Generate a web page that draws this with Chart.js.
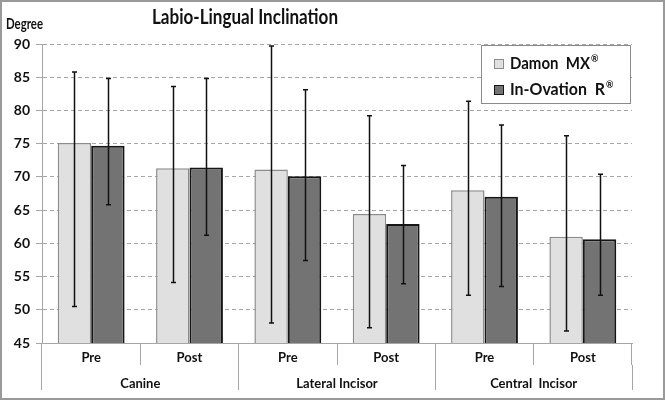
<!DOCTYPE html>
<html>
<head>
<meta charset="utf-8">
<script src="https://cdn.jsdelivr.net/npm/chart.js@4"></script>
<style>
body { margin: 0; background: #fff; }
</style>
</head>
<body>
<canvas id="chart" width="665" height="400"></canvas>
<script>
// data
const subLabels = ["Pre", "Post", "Pre", "Post", "Pre", "Post"];
const groupLabels = ["Canine", "Lateral Incisor", "Central  Incisor"];
const seriesNames = ["Damon  MX®", "In-Ovation  R®"];

const damonMean = [75.1, 71.3, 71.1, 64.4, 68.0, 61.0];
const damonLow  = [50.5, 54.1, 48.0, 47.3, 52.2, 46.8];
const damonHigh = [85.8, 83.6, 89.7, 79.2, 81.4, 76.2];

const inovMean = [74.7, 71.4, 70.1, 62.9, 67.0, 60.6];
const inovLow  = [65.8, 61.2, 57.4, 53.9, 53.5, 52.2];
const inovHigh = [84.8, 84.8, 83.1, 71.7, 77.8, 70.4];

const FONT = "Lato, 'Liberation Sans', sans-serif";
const GRID = "#a6a6a6";
const TXT = "#111";

// squeeze canvas text to a given width (the source font is a narrow one)
function fitText(ctx, text, x, y, width) {
    const w = ctx.measureText(text).width;
    const sx = width / w;
    ctx.save();
    ctx.translate(x, y);
    ctx.scale(sx, 1);
    ctx.fillText(text, 0, 0);
    ctx.restore();
    return w * sx;
}

const extras = {
    id: "extras",
    afterDatasetsDraw(chart) {
        const ctx = chart.ctx, y = chart.scales.y;
        const errs = [[damonLow, damonHigh], [inovLow, inovHigh]];
        ctx.save();
        ctx.strokeStyle = "#111";
        ctx.lineWidth = 1.5;
        chart.data.datasets.forEach((ds, i) => {
            chart.getDatasetMeta(i).data.forEach((bar, j) => {
                const x = Math.round(bar.x) + 0.5;
                const top = y.getPixelForValue(errs[i][1][j]);
                const bot = y.getPixelForValue(errs[i][0][j]);
                ctx.beginPath();
                ctx.moveTo(x, top); ctx.lineTo(x, bot);
                ctx.moveTo(x - 2.5, top); ctx.lineTo(x + 2.5, top);
                ctx.moveTo(x - 2.5, bot); ctx.lineTo(x + 2.5, bot);
                ctx.stroke();
            });
        });
        ctx.restore();
    },
    afterDraw(chart) {
        const ctx = chart.ctx;
        ctx.save();
        ctx.fillStyle = TXT;
        ctx.textBaseline = "middle";
        ctx.textAlign = "left";

        // title
        ctx.font = "bold 21px " + FONT;
        fitText(ctx, "Labio-Lingual Inclination", 152, 17, 186);

        // axis name
        ctx.font = "bold 15px " + FONT;
        fitText(ctx, "Degree", 6, 24, 37);

        // legend
        ctx.fillStyle = "#fff";
        ctx.fillRect(481, 45, 149, 58);
        ctx.strokeStyle = "#8a8a8a";
        ctx.lineWidth = 1;
        ctx.strokeRect(481.5, 45.5, 149, 58);
        const legendW = [80, 95];
        chart.data.datasets.forEach((ds, i) => {
            const cy = 64 + i * 26;
            ctx.fillStyle = ds.backgroundColor;
            ctx.fillRect(494, cy - 5, 10, 10);
            ctx.strokeStyle = ds.borderColor;
            ctx.strokeRect(494.5, cy - 4.5, 9, 9);
            const parts = ds.label.split("®");
            ctx.fillStyle = TXT;
            ctx.font = "bold 17px " + FONT;
            const w = fitText(ctx, parts[0], 510, cy, legendW[i]);
            ctx.font = "bold 9px " + FONT;
            ctx.fillText("®", 510 + w + 1, cy - 5);
        });

        // outer frame
        ctx.strokeStyle = "#9a9a9a";
        ctx.lineWidth = 2;
        ctx.strokeRect(1, 1, 663, 398);
        ctx.restore();
    }
};

new Chart(document.getElementById("chart"), {
    type: "bar",
    data: {
        labels: subLabels,
        datasets: [
            {
                label: seriesNames[0],
                data: damonMean,
                backgroundColor: "#e0e0e0",
                borderColor: "#8c8c8c",
                borderWidth: 1.5
            },
            {
                label: seriesNames[1],
                data: inovMean,
                backgroundColor: "#737373",
                borderColor: "#151515",
                borderWidth: 2
            }
        ]
    },
    options: {
        responsive: false,
        animation: false,
        categoryPercentage: 0.68,
        barPercentage: 1.0,
        layout: { padding: { top: 44, right: 33, bottom: 8, left: 0 } },
        plugins: {
            legend: { display: false },
            tooltip: { enabled: false }
        },
        scales: {
            x: {
                grid: { drawOnChartArea: false, offset: true, tickLength: 22, color: GRID },
                border: { color: GRID },
                ticks: { padding: -15, color: TXT, font: { family: FONT, size: 13, weight: "bold" } },
                afterFit(s) { s.height = 22; }
            },
            x2: {
                type: "category",
                labels: groupLabels,
                position: "bottom",
                offset: true,
                grid: { drawOnChartArea: false, offset: true, tickLength: 25, color: GRID },
                border: { display: false },
                ticks: { padding: -14, color: TXT, font: { family: FONT, size: 13, weight: "bold" } },
                afterFit(s) { s.height = 27; }
            },
            y: {
                min: 45,
                max: 90,
                ticks: { stepSize: 5, padding: 6, color: TXT, font: { family: FONT, size: 14, weight: "bold" } },
                grid: { color: GRID, tickLength: 6 },
                border: { color: GRID, dash: [4, 3] },
                afterFit(s) { s.width = 42; }
            }
        }
    },
    plugins: [extras]
});
</script>
</body>
</html>
